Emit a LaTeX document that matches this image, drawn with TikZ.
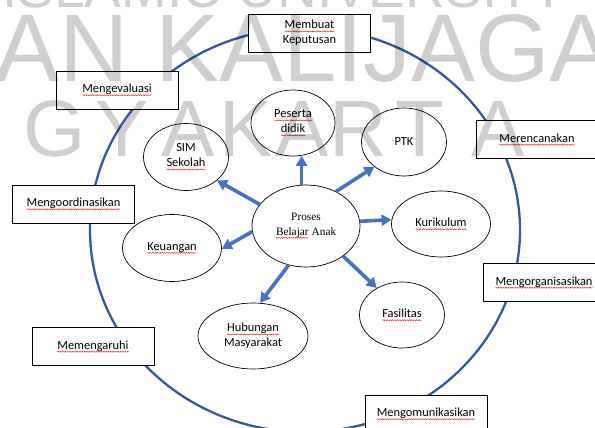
\documentclass[tikz,border=0pt]{standalone}
\usepackage{fontspec}
\setmainfont{Carlito}
\newfontfamily\procfont{Liberation Serif}
\newfontfamily\markfont{Liberation Sans}
\usetikzlibrary{shapes.geometric,arrows.meta,decorations.pathmorphing}

\definecolor{ringblue}{RGB}{52,90,156}
\definecolor{arrowblue}{RGB}{68,114,196}
\definecolor{spellred}{RGB}{225,40,40}

% wavy spell-check underline
\newcommand\typo[1]{\tikz[baseline=(tw.base),x=1pt,y=1pt]{%
  \node[shape=rectangle,draw=none,fill=none,inner sep=0pt,outer sep=0pt,
    minimum width=0pt,minimum height=0pt,anchor=base] (tw) at (0,0) {#1};
  \draw[spellred,line width=0.45pt,decorate,decoration={snake,amplitude=0.55pt,segment length=2.4pt}]
    (tw.west |- 0,-2.6) -- (tw.east |- 0,-2.6);}}

\begin{document}
\begin{tikzpicture}[x=1pt,y=-1pt,
    task/.style={draw=black,line width=0.8pt,fill=white,minimum width=122pt,minimum height=38pt,
      align=center,inner sep=2pt,font=\fontsize{12.4}{15}\selectfont},
    area/.style={ellipse,draw=black,line width=0.7pt,fill=white,inner sep=0pt,align=center,
      font=\fontsize{12.4}{15}\selectfont},
    flow/.style={draw=arrowblue,line width=3.6pt,-{Triangle[length=10pt,width=11pt]}},
    wmark/.style={text=black,text opacity=0.19,inner sep=0pt,anchor=base}]
    \useasboundingbox (0,0) rectangle (595,428);
    \fill[white] (0,0) rectangle (595,428);
    \draw[ringblue,line width=2.3pt] (305,230) ellipse [x radius=215pt,y radius=202pt];

    % management functions
    \node[task] (keputusan) at (309.5,33) {\typo{Membuat}\\Keputusan};
    \node[task] (evaluasi) at (117,90) {\typo{Mengevaluasi}};
    \node[task] (rencana) at (537,139.5) {\typo{Merencanakan}};
    \node[task] (koordinasi) at (73.5,204) {\typo{Mengoordinasikan}};
    \node[task] (organisasi) at (544,282.5) {\typo{Mengorganisasikan}};
    \node[task] (pengaruh) at (93,346.5) {\typo{Memengaruhi}};
    \node[task] (komunikasi) at (426,414) {\typo{Mengomunikasikan}};

    % areas
    \node[area,minimum width=108pt,minimum height=82pt,font=\procfont\fontsize{11.3}{14.5}\selectfont]
      (proses) at (306,226) {Proses\\\typo{Belajar} Anak};
    \node[area,minimum width=84pt,minimum height=66pt] (peserta) at (293,123) {\typo{Peserta}\\\typo{didik}};
    \node[area,minimum width=85pt,minimum height=67pt] (sim) at (186,157) {SIM\\\typo{Sekolah}};
    \node[area,minimum width=85pt,minimum height=68pt] (ptk) at (404,142) {PTK};
    \node[area,minimum width=99pt,minimum height=66pt] (kurikulum) at (441,224) {\typo{Kurikulum}};
    \node[area,minimum width=99pt,minimum height=67pt] (keuangan) at (172,248) {\typo{Keuangan}};
    \node[area,minimum width=85pt,minimum height=66pt] (fasilitas) at (402,315) {\typo{Fasilitas}};
    \node[area,minimum width=110pt,minimum height=66pt] (humas) at (253,336) {\typo{Hubungan}\\Masyarakat};

    \draw[flow] (proses.96) -- (proses.96 |- peserta.282);
    \draw[flow] (proses.155) -- (sim.323);
    \draw[flow] (proses.49) -- (ptk.220);
    \draw[flow] (proses.5) -- (kurikulum.175);
    \draw[flow] (proses.321) -- (fasilitas.133);
    \draw[flow] (proses.246) -- (humas.78);
    \draw[flow] (proses.186) -- (keuangan.359);

    % watermark
    \node[wmark,font=\markfont\fontsize{55}{55}\selectfont] (wm1) at (285,8) {ISLAMIC UNIVERSITY};
    \node[wmark,anchor=base west,font=\markfont\fontsize{96}{96}\selectfont] (wm2) at (-5,82) {AN KALIJAGA};
    \foreach \ch/\xx in {G/55,Y/122,A/188,K/246,A/302,R/358,T/420,A/498}
      \node[wmark,font=\markfont\fontsize{80}{80}\selectfont] (wm3-\xx) at (\xx,157) {\ch};
\end{tikzpicture}
\end{document}
